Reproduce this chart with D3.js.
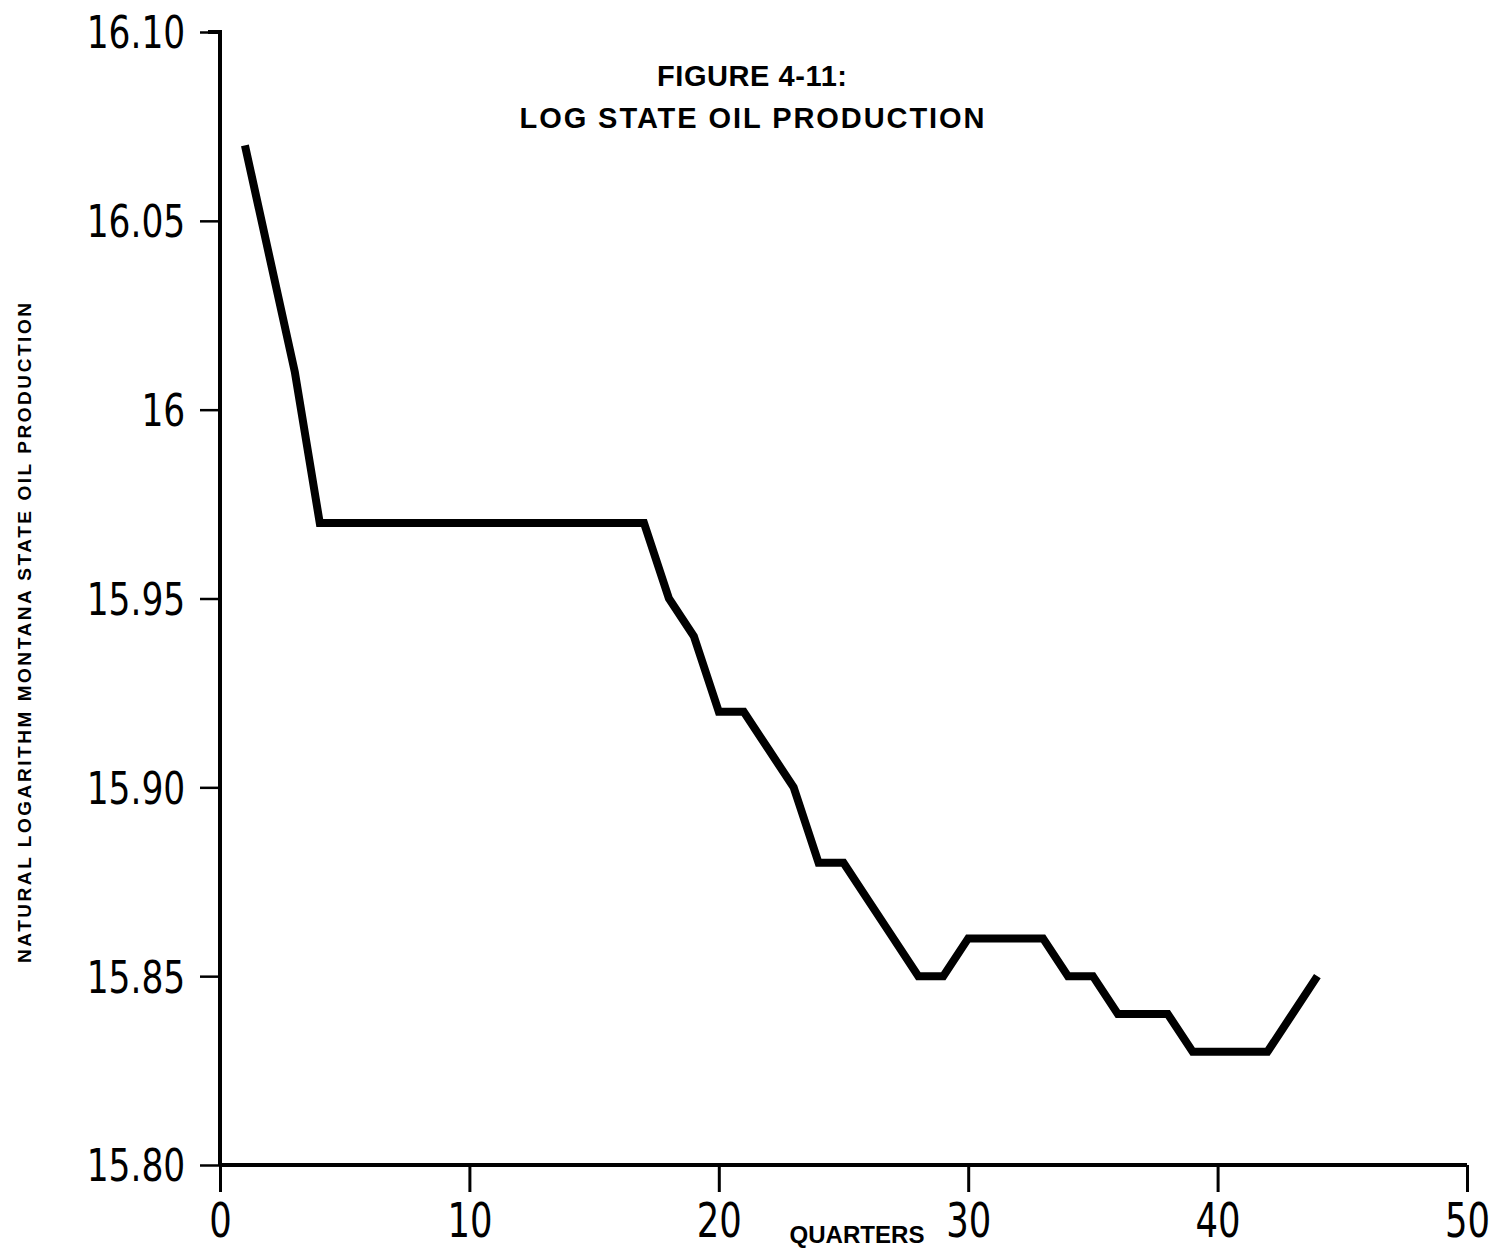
<!DOCTYPE html>
<html><head><meta charset="utf-8">
<script src="https://cdn.jsdelivr.net/npm/d3@7"></script>
<style>body{margin:0;background:#fff}</style>
</head><body>
<svg id="c" width="1500" height="1257"></svg>
<script>
const quarters = [1,2,3,4,5,6,7,8,9,10,11,12,13,14,15,16,17,18,19,20,21,22,23,24,25,26,27,28,29,30,31,32,33,34,35,36,37,38,39,40,41,42,43,44];
const logProduction = [16.07,16.04,16.01,15.97,15.97,15.97,15.97,15.97,15.97,15.97,15.97,15.97,15.97,15.97,15.97,15.97,15.97,15.95,15.94,15.92,15.92,15.91,15.90,15.88,15.88,15.87,15.86,15.85,15.85,15.86,15.86,15.86,15.86,15.85,15.85,15.84,15.84,15.84,15.83,15.83,15.83,15.83,15.84,15.85];
const yTicks = [15.80,15.85,15.90,15.95,16.00,16.05,16.10];
const yTickLabels = ["15.80","15.85","15.90","15.95","16","16.05","16.10"];
const xTicks = [0,10,20,30,40,50];
const titleLines = ["FIGURE 4-11:","LOG STATE OIL PRODUCTION"];

const svg = d3.select("#c");
const x = d3.scaleLinear().domain([0,50]).range([220,1467]);
const y = d3.scaleLinear().domain([15.80,16.10]).range([1165,32]);
const numFont = "'DejaVu Sans Condensed','Liberation Sans Narrow','DejaVu Sans',sans-serif";
const boldFont = "'Liberation Sans','Arial',sans-serif";

// Y axis
const ya = svg.append("g").attr("transform","translate(220,0)")
  .call(d3.axisLeft(y).tickValues(yTicks).tickFormat((d,i)=>yTickLabels[i]).tickSize(20).tickPadding(20));
ya.select(".domain").attr("stroke-width",4).attr("d","M-12,32H0V1165");
ya.selectAll(".tick line").attr("stroke-width",2.5);
ya.selectAll(".tick text").style("font-family",numFont).style("font-size","44px").attr("fill","#000").attr("dy","0.36em")
  .attr("transform","scale(0.87,1)");

// X axis
const xa = svg.append("g").attr("transform","translate(0,1165)")
  .call(d3.axisBottom(x).tickValues(xTicks).tickFormat(d3.format("d")).tickSize(27).tickPadding(11));
xa.select(".domain").attr("stroke-width",4).attr("d","M220,0H1467");
xa.selectAll(".tick line").attr("stroke-width",3);
xa.selectAll(".tick text").style("font-family",numFont).style("font-size","48px").attr("fill","#000")
  .attr("transform","scale(0.82,1)");

// line
const line = d3.line().x((d,i)=>x(quarters[i])).y(d=>y(d));
svg.append("path").datum(logProduction).attr("d",line)
  .attr("fill","none").attr("stroke","#000").attr("stroke-width",8)
  .attr("stroke-linejoin","miter").attr("stroke-linecap","butt");

// title
const titleWidths = [190, 465];
svg.append("g").selectAll("text").data(titleLines).join("text")
  .attr("x",752).attr("y",(d,i)=>86+i*42).attr("text-anchor","middle")
  .attr("textLength",(d,i)=>titleWidths[i]).attr("lengthAdjust","spacing")
  .style("font-family",boldFont).style("font-weight","bold").style("font-size","29px")
  .text(d=>d);

// axis titles
svg.append("text").attr("transform","translate(31,633) rotate(-90)").attr("text-anchor","middle")
  .attr("textLength",660).attr("lengthAdjust","spacing")
  .style("font-family",boldFont).style("font-weight","bold").style("font-size","19px")
  .text("NATURAL LOGARITHM MONTANA STATE OIL PRODUCTION");
svg.append("text").attr("x",857).attr("y",1243).attr("text-anchor","middle")
  .attr("textLength",135).attr("lengthAdjust","spacingAndGlyphs")
  .style("font-family",boldFont).style("font-weight","bold").style("font-size","23px")
  .text("QUARTERS");
</script>
</body></html>
